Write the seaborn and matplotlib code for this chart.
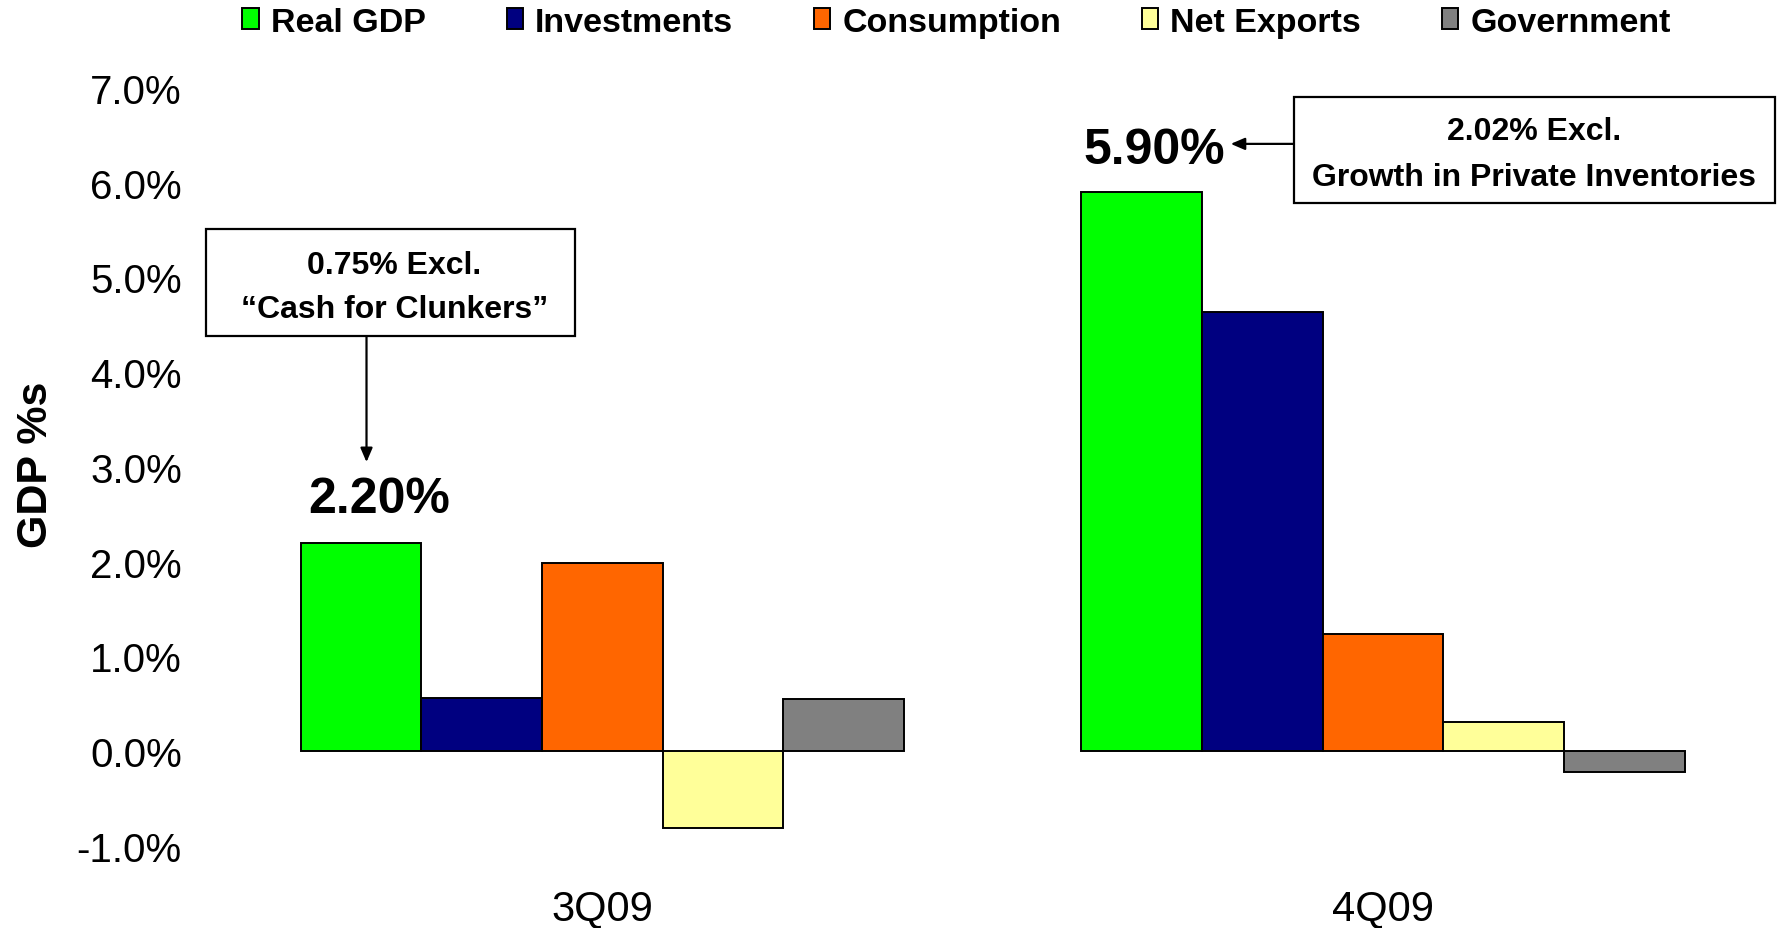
import matplotlib
matplotlib.use("Agg")
import matplotlib.pyplot as plt
from matplotlib.patches import Rectangle
import seaborn as sns
import pandas as pd

# Contributions to real GDP growth, percent
quarters = ["3Q09", "4Q09"]
components = ["Real GDP", "Investments", "Consumption", "Net Exports", "Government"]
values_3q09 = [2.20, 0.56, 1.98, -0.81, 0.55]
values_4q09 = [5.90, 4.64, 1.23, 0.31, -0.22]
colors = ["#00FF00", "#000080", "#FF6600", "#FFFF99", "#808080"]
y_ticks = [-1, 0, 1, 2, 3, 4, 5, 6, 7]

rows = []
for q, vals in zip(quarters, [values_3q09, values_4q09]):
    for c, v in zip(components, vals):
        rows.append({"quarter": q, "component": c, "value": v})
df = pd.DataFrame(rows)

sns.set_theme(style="white")
plt.rcParams["font.family"] = ["Liberation Sans", "DejaVu Sans"]
plt.rcParams["text.color"] = "black"
plt.rcParams["axes.labelcolor"] = "black"
plt.rcParams["xtick.color"] = "black"
plt.rcParams["ytick.color"] = "black"

fig = plt.figure(figsize=(17.78, 9.29), dpi=100)
ax = fig.add_axes([0.1069, 0.0635, 0.8931, 0.8719])

sns.barplot(data=df, x="quarter", y="value", hue="component",
            hue_order=components, palette=colors, saturation=1,
            width=0.773, edgecolor="black", linewidth=1.4, ax=ax,
            legend=True)

ax.set_xlim(-0.528, 1.506)
ax.set_ylim(-1.246, 7.306)
ax.set_yticks(y_ticks)
ax.set_yticklabels([f"{t:.1f}%" for t in y_ticks], fontsize=29)
ax.tick_params(axis="y", length=0, pad=6)
ax.tick_params(axis="x", length=0, pad=14, labelsize=30)
ax.set_xlabel("")
ax.set_ylabel("GDP %s", fontsize=31, fontweight="bold", labelpad=15)
for s in ax.spines.values():
    s.set_visible(False)
ax.grid(False)

# Legend across the top
handles, labels = ax.get_legend_handles_labels()
ax.get_legend().remove()
fig.legend(handles, labels, loc="center", bbox_to_anchor=(0.538, 0.975),
           ncol=5, frameon=False, handlelength=0.48, handleheight=0.55,
           handletextpad=0.35, columnspacing=2.38,
           prop={"size": 24.5, "weight": "bold"})

# Headline values
gdp_3q = values_3q09[0]
gdp_4q = values_4q09[0]
ax.text(-0.2855, 2.665, f"{gdp_3q:.2f}%", ha="center", va="center",
        fontsize=36, fontweight="bold")
ax.text(0.707, 6.345, f"{gdp_4q:.2f}%", ha="center", va="center",
        fontsize=36, fontweight="bold")

# Callout boxes
box_kw = dict(facecolor="white", edgecolor="black", linewidth=1.6,
              clip_on=False, zorder=5)
ax.add_patch(Rectangle((-0.508, 4.38), 0.4734, 1.13, **box_kw))
ax.add_patch(Rectangle((0.886, 5.79), 0.616, 1.12, **box_kw))
ax.text(-0.266, 5.134, "0.75% Excl.", ha="center", va="center",
        fontsize=23, fontweight="bold", zorder=6)
ax.text(-0.266, 4.664, "\u201cCash for Clunkers\u201d", ha="center",
        va="center", fontsize=23, fontweight="bold", zorder=6)
ax.text(1.193, 6.544, "2.02% Excl.", ha="center", va="center",
        fontsize=23, fontweight="bold", zorder=6)
ax.text(1.193, 6.064, "Growth in Private Inventories", ha="center",
        va="center", fontsize=23, fontweight="bold", zorder=6)

arrow_kw = dict(arrowstyle="-|>,head_length=0.7,head_width=0.3",
                color="black", lw=1.6, shrinkA=0, shrinkB=0)
ax.annotate("", xy=(-0.302, 3.05), xytext=(-0.302, 4.38),
            arrowprops=arrow_kw, annotation_clip=False)
ax.annotate("", xy=(0.805, 6.41), xytext=(0.886, 6.41),
            arrowprops=arrow_kw, annotation_clip=False)

fig.savefig("out.png", dpi=100)
